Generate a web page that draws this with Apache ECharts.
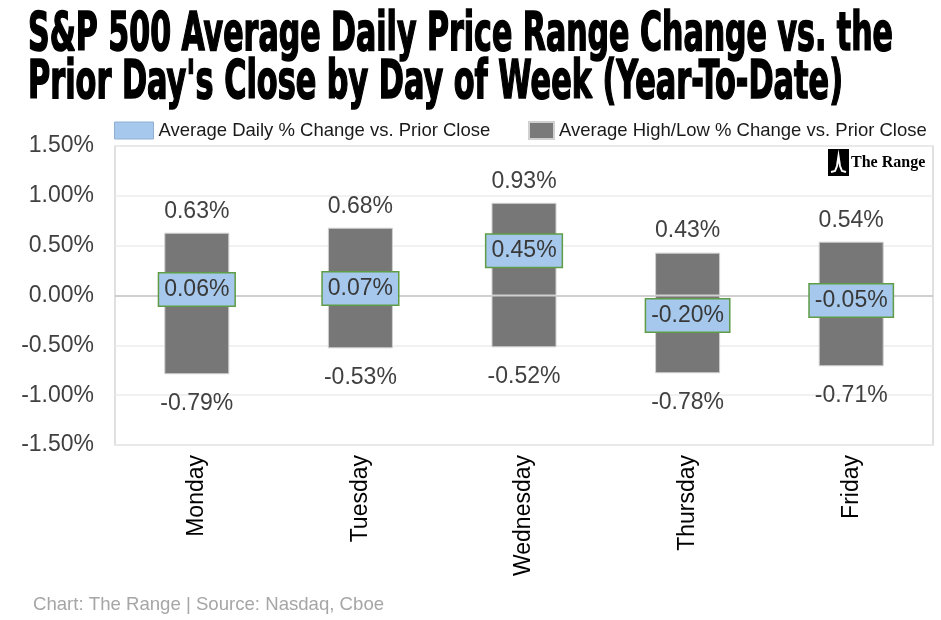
<!DOCTYPE html>
<html>
<head>
<meta charset="utf-8">
<script src="https://cdn.jsdelivr.net/npm/echarts@6/dist/echarts.min.js"></script>
<style>
html,body{margin:0;padding:0;background:#fff;}
#chart{width:941px;height:620px;}
</style>
</head>
<body>
<div id="chart"></div>
<script>
// ---- data ----
const categories = ['Monday', 'Tuesday', 'Wednesday', 'Thursday', 'Friday'];
const avgDailyChange = [0.06, 0.07, 0.45, -0.20, -0.05];
const avgHigh = [0.63, 0.68, 0.93, 0.43, 0.54];
const avgLow = [-0.79, -0.53, -0.52, -0.78, -0.71];
const yMin = -1.5, yMax = 1.5, yStep = 0.5;
const seriesNameDaily = 'Average Daily % Change vs. Prior Close';
const seriesNameRange = 'Average High/Low % Change vs. Prior Close';
const titleLines = ["S&P 500 Average Daily Price Range Change vs. the", "Prior Day's Close by Day of Week (Year-To-Date)"];
const footerText = 'Chart: The Range | Source: Nasdaq, Cboe';
const logoText = 'The Range';

const FONT = '"Liberation Sans", Arial, sans-serif';
const TFONT = '"DejaVu Sans Condensed", "DejaVu Sans", sans-serif';
const TSIZE = 40;

function measure(text, size, weight, family) {
  const c = document.createElement('canvas').getContext('2d');
  c.font = weight + ' ' + size + 'px ' + family;
  return c.measureText(text).width;
}
const sx1 = 865 / measure(titleLines[0], TSIZE, 'bold', TFONT);
const sx2 = 815 / measure(titleLines[1], TSIZE, 'bold', TFONT);
const sy = 39 / (0.729 * TSIZE);

const fmt = v => (typeof v === 'object' ? v.value : v).toFixed(2) + '%';

const chart = echarts.init(document.getElementById('chart'));
const splitColors = [];
for (let v = yMin; v <= yMax + 1e-9; v += yStep) splitColors.push(Math.abs(v) < 1e-9 ? '#c0c0c0' : '#ececec');

chart.setOption({
  animation: false,
  backgroundColor: '#fff',
  grid: { left: 115, right: 8, top: 146, bottom: 175, show: true, borderColor: '#d6d6d6', borderWidth: 1.5, containLabel: false },
  legend: [
    { data: [{ name: seriesNameDaily, itemStyle: { color: '#a6c8ec', borderColor: '#8fb0d3', borderWidth: 1, opacity: 1 } }],
      left: 114, top: 121, padding: 0, itemWidth: 39, itemHeight: 17, icon: 'rect', selectedMode: false,
      textStyle: { fontFamily: FONT, fontSize: 18.5, color: '#1a1a1a' } },
    { data: [{ name: seriesNameRange, itemStyle: { color: '#7a7a7a', opacity: 1 } }],
      left: 528, top: 121, padding: 0, itemWidth: 25, itemHeight: 17, icon: 'rect', selectedMode: false,
      textStyle: { fontFamily: FONT, fontSize: 18.5, color: '#1a1a1a' } }
  ],
  xAxis: {
    type: 'category', data: categories,
    axisLine: { show: false, onZero: false }, axisTick: { show: false },
    axisLabel: { rotate: 90, margin: 10, fontFamily: FONT, fontSize: 23, color: '#000' }
  },
  yAxis: {
    type: 'value', min: yMin, max: yMax, interval: yStep,
    axisLine: { show: false }, axisTick: { show: false },
    axisLabel: { formatter: v => v.toFixed(2) + '%', margin: 21, fontFamily: FONT, fontSize: 23, color: '#404040' },
    splitLine: { lineStyle: { color: splitColors, width: 1.5 } }
  },
  series: [
    { name: seriesNameRange, type: 'bar', stack: 'range', data: avgHigh, barWidth: 65, z: 2,
      itemStyle: { color: '#777777', borderColor: '#d0d0d0', borderWidth: 1 },
      label: { show: true, position: 'top', distance: 10, formatter: p => fmt(p.value), fontFamily: FONT, fontSize: 23, color: '#404040' },
      emphasis: { disabled: true } },
    { name: seriesNameRange, type: 'bar', stack: 'range', data: avgLow, barWidth: 65, z: 2,
      itemStyle: { color: '#777777', borderColor: '#d0d0d0', borderWidth: 1 },
      label: { show: true, position: 'bottom', distance: 18, formatter: p => fmt(p.value), fontFamily: FONT, fontSize: 23, color: '#404040' },
      emphasis: { disabled: true } },
    { name: seriesNameDaily, type: 'scatter', data: avgDailyChange, symbol: 'rect', symbolSize: 1, z: 5,
      itemStyle: { color: 'transparent', opacity: 1 },
      label: { show: true, position: 'inside', opacity: 1, formatter: p => fmt(p.value), fontFamily: FONT, fontSize: 23, color: '#383838',
        backgroundColor: '#a6c8ec', borderColor: '#5e9c45', borderWidth: 1.5, padding: [4, 5, 3, 5], lineHeight: 25 },
      emphasis: { disabled: true } }
  ],
  graphic: [
    { type: 'text', x: 28, y: 36, scaleX: sx1, scaleY: sy, z: 10,
      style: { text: titleLines[0], fontSize: TSIZE, fontWeight: 'bold', fontFamily: TFONT, fill: '#000', stroke: '#000', lineWidth: 1.2, verticalAlign: 'middle', align: 'left' } },
    { type: 'text', x: 28, y: 84, scaleX: sx2, scaleY: sy, z: 10,
      style: { text: titleLines[1], fontSize: TSIZE, fontWeight: 'bold', fontFamily: TFONT, fill: '#000', stroke: '#000', lineWidth: 1.2, verticalAlign: 'middle', align: 'left' } },
    { type: 'rect', shape: { x: 828, y: 149, width: 21, height: 27 }, style: { fill: '#000' }, z: 10 },
    { type: 'polyline', shape: { points: [[831, 172], [835, 171], [837, 166], [838.5, 156], [840, 166], [842, 171], [846, 172]] },
      style: { stroke: '#fff', lineWidth: 2, fill: null }, z: 11 },
    { type: 'text', x: 851, y: 163, z: 10,
      style: { text: logoText, fontSize: 16, fontWeight: 'bold', fontFamily: '"Liberation Serif", "DejaVu Serif", serif', fill: '#000', verticalAlign: 'middle' } },
    { type: 'text', x: 33, y: 605, z: 10,
      style: { text: footerText, fontSize: 18.6, fontFamily: FONT, fill: '#a6a6a6', verticalAlign: 'middle' } }
  ]
});
</script>
</body>
</html>
